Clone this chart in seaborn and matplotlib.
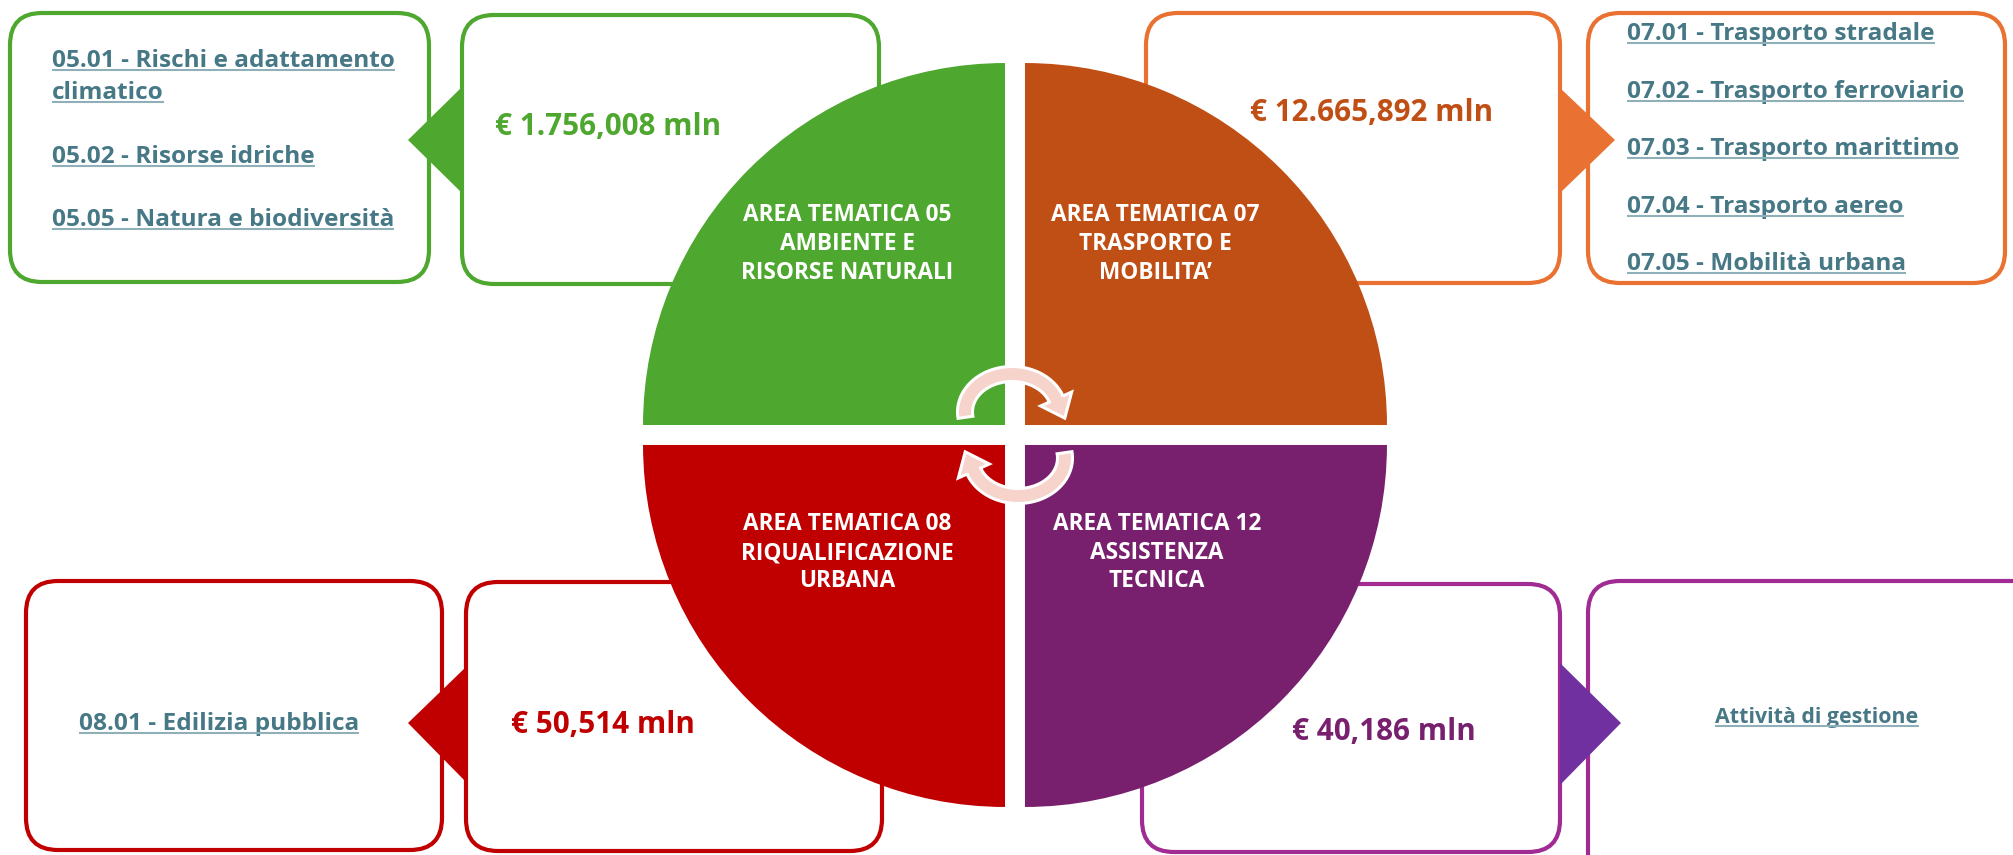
import numpy as np
import matplotlib.pyplot as plt
import seaborn as sns
from matplotlib.patches import FancyBboxPatch, Polygon

sns.set_theme(style="white")
plt.rcParams['font.family'] = ['Open Sans', 'DejaVu Sans']

# --- data
codici = ["AREA TEMATICA 05", "AREA TEMATICA 07", "AREA TEMATICA 08", "AREA TEMATICA 12"]
nomi = [["AMBIENTE E", "RISORSE NATURALI"],
        ["TRASPORTO E", "MOBILITA’"],
        ["RIQUALIFICAZIONE", "URBANA"],
        ["ASSISTENZA", "TECNICA"]]
importi = ["€ 1.756,008 mln", "€ 12.665,892 mln", "€ 50,514 mln", "€ 40,186 mln"]
voci_05 = ["05.01 - Rischi e adattamento", "climatico", "05.02 - Risorse idriche",
           "05.05 - Natura e biodiversità"]
voci_07 = ["07.01 - Trasporto stradale", "07.02 - Trasporto ferroviario",
           "07.03 - Trasporto marittimo", "07.04 - Trasporto aereo",
           "07.05 - Mobilità urbana"]
voci_08 = ["08.01 - Edilizia pubblica"]
voci_12 = ["Attività di gestione"]
quote = [1, 1, 1, 1]  # the four areas are drawn as equal quadrants

# --- colours
verde, arancio, rosso, viola = "#4EA72E", "#C04F15", "#C00000", "#78206E"
bordi = ["#4EA72E", "#E97132", "#C00000", "#A02B93"]
punte = ["#4EA72E", "#E97132", "#C00000", "#7030A0"]
link = "#467886"
sottolineato = "#8FB0B9"
rosa = "#F6D4CC"

W, H = 2013, 855
fig = plt.figure(figsize=(W / 100, H / 100), dpi=100)
ax = fig.add_axes([0, 0, 1, 1])

# circle (y axis gets flipped, so wedges run clockwise on screen:
# bottom-right, bottom-left, top-left, top-right)
cx, cy = 1015, 435
wedges, _ = ax.pie(quote, colors=[viola, rosso, verde, arancio], radius=362,
                   center=(cx, cy), startangle=0, explode=[14.1] * 4,
                   wedgeprops=dict(linewidth=0))
for w in wedges:
    w.set_zorder(3)

ax.set_xlim(0, W)
ax.set_ylim(H, 0)
ax.set_aspect('auto')
ax.axis('off')


def riquadro(x0, y0, x1, y1, colore):
    ax.add_patch(FancyBboxPatch((x0, y0), x1 - x0, y1 - y0,
                                boxstyle="round,pad=0,rounding_size=32",
                                fc="white", ec=colore, lw=3, zorder=1))


def punta(tip, base_x, y0, y1, colore):
    ax.add_patch(Polygon([tip, (base_x, y0), (base_x, y1)], closed=True,
                         fc=colore, ec="none", zorder=2))


# boxes: value box + list box for each area
riquadro(462, 15, 879, 284, bordi[0]); riquadro(10, 13, 429, 282, bordi[0])
riquadro(1146, 13, 1560, 283, bordi[1]); riquadro(1588, 13, 2005, 283, bordi[1])
riquadro(466, 582, 882, 851, bordi[2]); riquadro(26, 581, 442, 850, bordi[2])
riquadro(1142, 584, 1560, 852, bordi[3]); riquadro(1588, 581, 2045, 885, bordi[3])

punta((408, 140), 462, 87, 193, punte[0])
punta((1615, 140), 1560, 88, 193, punte[1])
punta((408, 723), 466, 667, 782, punte[2])
punta((1621, 723), 1560, 663, 785, punte[3])

# area names inside the quadrants
centri = [(847, [215, 244, 273]), (1155, [215, 244, 273]),
          (847, [524, 553, 581]), (1157, [524, 553, 581])]
for (x, ys), cod, nome in zip(centri, codici, nomi):
    for y, riga in zip(ys, [cod] + nome):
        ax.text(x, y, riga, ha="center", va="center", color="white",
                fontsize=16.3, fontweight="bold", zorder=4)

# amounts
pos_importi = [(495, 127), (1250, 113), (511, 725), (1292, 732)]
col_importi = [verde, arancio, rosso, viola]
for (x, y), s, c in zip(pos_importi, importi, col_importi):
    ax.text(x, y, s, ha="left", va="center", color=c, fontsize=21.3,
            fontweight="bold", zorder=4)

# underlined sub-items
testi = []


def voci(x, ys, righe, ha="left", size=17.6):
    for y, s in zip(ys, righe):
        testi.append(ax.text(x, y, s, ha=ha, va="baseline", color=link,
                             fontsize=size, fontweight="bold", zorder=4))


voci(52, [67, 99, 163, 226], voci_05)
voci(1627, [40, 98, 155, 213, 270], voci_07)
voci(79, [730], voci_08)
voci(1817, [723], voci_12, ha="center", size=15.4)

fig.canvas.draw()
for t in testi:
    bb = t.get_window_extent()
    y = t.get_position()[1] + 3
    ax.plot([bb.x0, bb.x1], [y, y], color=sottolineato, lw=1.5, zorder=4,
            solid_capstyle="butt")


# the two curved arrows in the middle
def freccia(ecx, ecy, rx, ry, a0, a1, half=7.5, head=17, lung=21):
    a = np.radians(np.linspace(a0, a1, 60))

    def pt(ang, dr):
        return np.column_stack([ecx + (rx + dr) * np.cos(ang),
                                ecy - (ry + dr) * np.sin(ang)])

    est = pt(a, half)
    inn = pt(a, -half)[::-1]
    e = np.radians(a1)
    mid = pt(np.array([e]), 0)[0]
    tang = np.array([rx * np.sin(e), ry * np.cos(e)])
    tang = tang / np.linalg.norm(tang)
    perp = np.array([tang[1], -tang[0]])
    testa = [mid + perp * head, mid + tang * lung, mid - perp * head]
    return np.vstack([est, mid + perp * half, testa, mid - perp * half, inn])


sup = freccia(1012, 412, 47, 38, 188, 20)
inf = 2 * np.array([cx, cy]) - sup
for p in (sup, inf):
    ax.add_patch(Polygon(p, closed=True, fc=rosa, ec="white", lw=2.2,
                         joinstyle="miter", zorder=5))

fig.savefig("out.png", dpi=100, facecolor="white")
